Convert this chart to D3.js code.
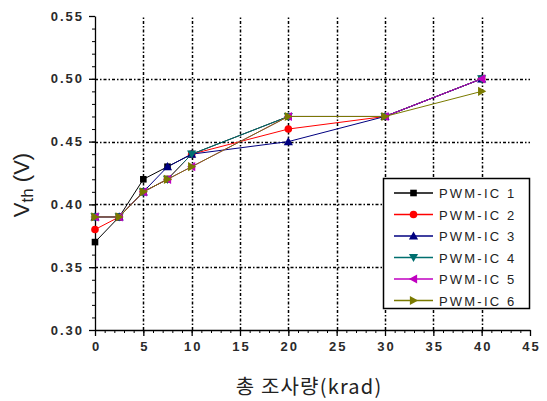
<!DOCTYPE html>
<html>
<head>
<meta charset="utf-8">
<script src="https://cdn.jsdelivr.net/npm/d3@7"></script>
<style>
  body { margin: 0; background: #fff; }
  svg { display: block; }
</style>
</head>
<body>
<svg class="chart" width="547" height="401"></svg>
<script>
// dose points (krad)
var doses = [0, 2.5, 5, 7.5, 10, 20, 30, 40];

// Vth per IC
var ic1 = [0.37, 0.39, 0.42, 0.43, 0.44, 0.47, 0.47, 0.50];
var ic2 = [0.38, 0.39, 0.41, 0.42, 0.44, 0.46, 0.47, 0.50];
var ic3 = [0.39, 0.39, 0.41, 0.43, 0.44, 0.45, 0.47, 0.50];
var ic4 = [0.39, 0.39, 0.41, 0.42, 0.44, 0.47, 0.47, 0.50];
var ic5 = [0.39, 0.39, 0.41, 0.42, 0.43, 0.47, 0.47, 0.50];
var ic6 = [0.39, 0.39, 0.41, 0.42, 0.43, 0.47, 0.47, 0.49];

var seriesNames = ["PWM-IC 1", "PWM-IC 2", "PWM-IC 3", "PWM-IC 4", "PWM-IC 5", "PWM-IC 6"];
var xTicks = [0, 5, 10, 15, 20, 25, 30, 35, 40, 45];
var yTicks = [0.30, 0.35, 0.40, 0.45, 0.50, 0.55];

var colors = ["#000000", "#ff0000", "#000080", "#006f6f", "#c000c0", "#7a7a00"];
var symbols = ["square", "circle", "up", "down", "left", "right"];

var svg = d3.select("svg.chart");
var margin = {left: 95, top: 16, right: 17, bottom: 71};
var W = 547, H = 401;

var x = d3.scaleLinear().domain([0, 45]).range([margin.left, W - margin.right]);
var y = d3.scaleLinear().domain([0.30, 0.55]).range([H - margin.bottom, margin.top]);

// grid
var grid = svg.append("g").attr("stroke", "#000").attr("stroke-width", 1.5)
  .attr("stroke-dasharray", "3,2,1.5,2").attr("fill", "none");
grid.selectAll(".vg").data(xTicks.filter(function(d){ return d > 0 && d < 45; }))
  .enter().append("line")
  .attr("x1", function(d){ return Math.round(x(d)) + 0.5; })
  .attr("x2", function(d){ return Math.round(x(d)) + 0.5; })
  .attr("y1", y(0.30)).attr("y2", y(0.55));
grid.selectAll(".hg").data(yTicks.filter(function(d){ return d > 0.301 && d < 0.549; }))
  .enter().append("line")
  .attr("y1", function(d){ return Math.round(y(d)) + 0.5; })
  .attr("y2", function(d){ return Math.round(y(d)) + 0.5; })
  .attr("x1", x(0)).attr("x2", x(45));

// axes
var tickFont = "Liberation Sans, Arial, sans-serif";
var xMinor = d3.axisBottom(x).tickValues(d3.range(0, 46, 1)).tickSize(3).tickFormat("");
var yMinor = d3.axisLeft(y).tickValues(d3.range(30, 56, 1).map(function(d){ return d / 100; })).tickSize(3).tickFormat("");

svg.append("g").attr("transform", "translate(0," + y(0.30) + ")").call(xMinor)
  .call(function(g){ g.select(".domain").remove(); });
svg.append("g").attr("transform", "translate(" + x(0) + ",0)").call(yMinor)
  .call(function(g){ g.select(".domain").remove(); });

var xAxis = svg.append("g").attr("transform", "translate(0," + y(0.30) + ")")
  .call(d3.axisBottom(x).tickValues(xTicks).tickSize(6).tickSizeOuter(0).tickPadding(6).tickFormat(d3.format("d")));
var yAxis = svg.append("g").attr("transform", "translate(" + x(0) + ",0)")
  .call(d3.axisLeft(y).tickValues(yTicks).tickSize(6).tickSizeOuter(0).tickPadding(5).tickFormat(d3.format(".2f")));

[xAxis, yAxis].forEach(function(g){
  g.selectAll("path, line").attr("stroke", "#000").attr("stroke-width", 1.3);
  g.selectAll("text").attr("font-family", tickFont).attr("font-size", 13)
    .attr("font-weight", "bold").attr("fill", "#2a2a2a").style("letter-spacing", "2px");
});
xAxis.selectAll("text").attr("dx", "1px");

// axis titles
var yt = svg.append("text").attr("transform", "translate(29,185) rotate(-90)")
  .attr("text-anchor", "middle").attr("font-family", tickFont).attr("font-size", 22).attr("fill", "#222");
yt.append("tspan").text("V");
yt.append("tspan").text("th").attr("font-size", 17).attr("dy", 4);
yt.append("tspan").text(" (V)").attr("dy", -4);

svg.append("text").attr("x", 309).attr("y", 394).attr("text-anchor", "middle")
  .attr("font-family", "Noto Sans CJK KR, sans-serif").attr("font-size", 20).attr("fill", "#222")
  .style("letter-spacing", "1.2px")
  .text("총 조사량(krad)");

// marker drawing
function marker(g, type, color, cx, cy) {
  var s = 3.6;
  var p;
  if (type === "square") {
    g.append("rect").attr("x", cx - 3.3).attr("y", cy - 3.3).attr("width", 6.6).attr("height", 6.6).attr("fill", color);
    return;
  }
  if (type === "circle") {
    g.append("circle").attr("cx", cx).attr("cy", cy).attr("r", 3.8).attr("fill", color);
    return;
  }
  if (type === "up") p = [[cx, cy - s - 1], [cx - s - 1, cy + s], [cx + s + 1, cy + s]];
  if (type === "down") p = [[cx, cy + s + 1], [cx - s - 1, cy - s], [cx + s + 1, cy - s]];
  if (type === "left") p = [[cx - s - 1, cy], [cx + s, cy - s - 1], [cx + s, cy + s + 1]];
  if (type === "right") p = [[cx + s + 1, cy], [cx - s, cy - s - 1], [cx - s, cy + s + 1]];
  g.append("polygon").attr("points", p.map(function(q){ return q.join(","); }).join(" ")).attr("fill", color);
}

var allSeries = [ic1, ic2, ic3, ic4, ic5, ic6];
var line = d3.line().x(function(d){ return x(d[0]); }).y(function(d){ return y(d[1]); });

allSeries.forEach(function(vals, i) {
  var pts = doses.map(function(d, j){ return [d, vals[j]]; });
  var g = svg.append("g");
  g.append("path").datum(pts).attr("d", line).attr("fill", "none")
    .attr("stroke", colors[i]).attr("stroke-width", 1);
  pts.forEach(function(p){ marker(g, symbols[i], colors[i], x(p[0]), y(p[1])); });
});

// legend
var lg = svg.append("g");
lg.append("rect").attr("x", 383.5).attr("y", 178.5).attr("width", 146).attr("height", 130)
  .attr("fill", "#fff").attr("stroke", "#000").attr("stroke-width", 1.5);
seriesNames.forEach(function(name, i) {
  var ly = 193 + i * 21.5;
  lg.append("line").attr("x1", 394).attr("x2", 433).attr("y1", ly).attr("y2", ly)
    .attr("stroke", colors[i]).attr("stroke-width", 1.3);
  marker(lg, symbols[i], colors[i], 413.5, ly);
  lg.append("text").attr("x", 439).attr("y", ly + 5).text(name)
    .attr("font-family", tickFont).attr("font-size", 13).attr("fill", "#222")
    .style("letter-spacing", "2.2px");
});
</script>
</body>
</html>
